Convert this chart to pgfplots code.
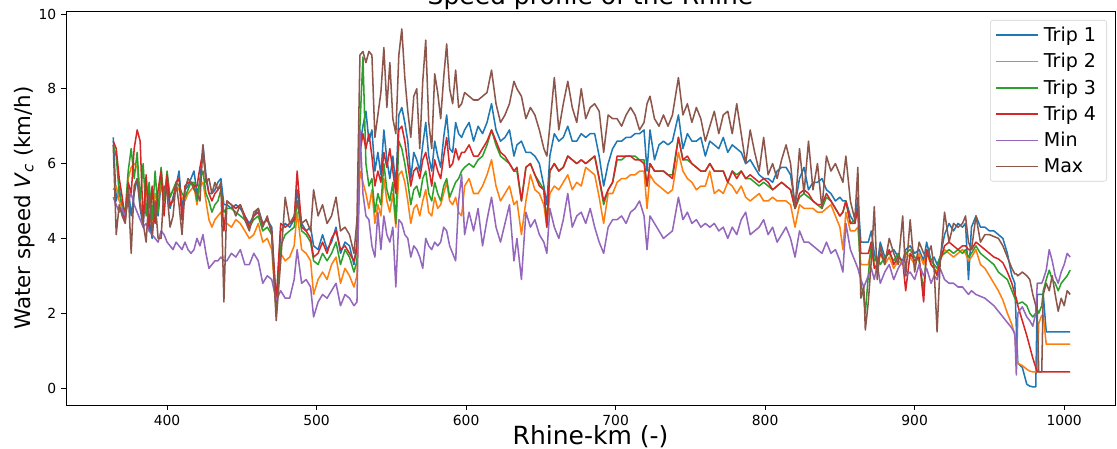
\documentclass[border=0pt]{standalone}
\usepackage{pgfplots}
\usepackage{pgfplotstable}
\pgfplotsset{compat=1.18}
\usepackage{fontspec}
\setmainfont{DejaVu Sans}
\definecolor{c1}{HTML}{1F77B4}
\definecolor{c2}{HTML}{FF7F0E}
\definecolor{c3}{HTML}{2CA02C}
\definecolor{c4}{HTML}{D62728}
\definecolor{c5}{HTML}{9467BD}
\definecolor{c6}{HTML}{8C564B}
\pgfplotstableread{
x t1 t2 t3 t4 mn mx
364 6.7 5.3 6.5 6.6 5.1 6.5
366 5.0 5.4 6.2 6.4 4.9 4.1
368 5.4 5.0 5.2 5.6 4.7 4.9
370 4.7 4.8 4.9 5.1 4.8 4.6
372 4.5 4.6 4.7 4.5 4.6 4.4
374 5.4 5.6 5.8 5.5 5.0 5.3
376 4.6 5.9 6.4 5.2 5.2 3.6
378 5.2 6.0 5.6 6.4 4.9 5.4
380 5.6 5.9 6.3 6.9 4.7 5.6
382 4.8 5.0 5.0 6.6 4.5 4.9
384 4.3 4.6 6.0 4.4 4.3 4.4
386 5.6 5.4 4.6 5.7 4.4 3.9
388 4.5 4.6 5.5 4.2 4.2 5.2
390 4.0 4.4 4.5 5.4 4.1 4.1
392 5.0 5.2 5.8 4.4 4.0 5.0
394 4.6 4.9 4.7 5.3 3.9 4.0
396 5.5 5.5 5.9 5.8 4.2 4.0
398 5.0 5.2 5.0 4.6 4.1 5.4
400 5.4 5.6 5.8 5.7 3.9 5.2
402 4.8 5.1 5.1 4.9 3.8 4.3
404 5.1 5.3 5.3 5.0 3.7 4.6
406 5.4 5.4 5.5 5.5 3.9 5.5
408 5.8 5.3 5.4 5.6 3.8 4.9
410 4.8 5.1 5.2 4.5 3.7 4.1
412 5.3 5.0 5.1 5.4 3.9 5.3
414 5.4 5.2 5.3 5.5 3.7 5.6
416 5.6 5.3 5.5 5.5 3.6 5.5
418 5.8 5.4 5.5 5.4 3.7 5.3
420 5.2 4.9 5.0 5.4 4.0 5.2
422 5.5 5.4 5.6 5.9 3.8 5.0
424 6.5 5.5 5.8 6.3 4.1 6.5
426 5.7 5.0 5.2 5.6 3.6 5.5
428 5.2 4.5 5.0 5.2 3.2 5.6
430 5.2 4.3 4.7 5.0 3.3 5.2
432 5.3 4.5 4.9 5.2 3.4 5.5
434 5.5 4.6 5.0 5.3 3.4 5.3
436 5.6 4.7 5.3 5.4 3.5 5.5
438 4.9 4.4 4.7 4.2 3.4 2.3
440 4.9 4.4 4.8 5.0 3.4 5.0
443 4.8 4.3 4.8 4.9 3.6 4.9
446 4.9 4.5 4.7 4.8 3.5 4.6
449 4.8 4.4 4.6 4.9 3.7 4.9
452 4.6 4.2 4.5 4.6 3.3 4.5
455 4.4 4.0 4.3 4.3 3.3 4.2
458 4.6 4.1 4.5 4.6 3.6 4.7
461 4.8 4.4 4.6 4.7 3.4 4.8
464 4.4 3.9 4.2 4.4 2.8 4.3
467 4.5 4.0 4.3 4.5 3.0 4.6
470 4.3 3.7 4.1 4.2 2.9 4.1
473 2.2 2.1 2.0 2.3 2.35 1.8
476 4.2 3.6 3.8 4.4 2.6 3.4
479 4.4 3.4 4.1 4.3 2.4 5.1
482 4.3 3.5 4.2 4.4 2.4 4.4
485 4.5 3.8 4.3 4.5 2.9 4.6
487 5.3 4.7 5.0 5.8 3.7 5.0
490 4.4 3.7 4.2 4.3 2.8 4.4
493 4.2 3.6 4.1 4.2 2.9 4.5
496 4.3 3.4 3.9 4.0 2.7 4.2
498 3.8 2.5 3.4 3.5 1.9 5.3
501 3.7 2.9 3.3 3.6 2.3 4.6
504 4.1 3.1 3.6 3.9 2.5 4.9
507 3.7 2.9 3.4 3.6 2.4 4.4
510 3.9 3.3 3.6 4.0 2.6 4.6
513 4.3 3.5 3.9 4.2 2.8 5.1
516 3.6 2.8 3.3 3.7 2.2 4.2
519 3.9 3.2 3.7 3.8 2.5 4.3
522 3.8 3.0 3.5 3.6 2.4 4.1
525 3.3 2.7 3.1 3.4 2.2 3.6
527 3.9 3.0 3.4 3.7 2.3 4.5
529 6.5 5.8 7.0 6.3 6.9 8.9
531 7.0 5.5 8.85 6.8 5.2 9.0
533 7.4 5.2 6.0 6.4 4.6 8.7
535 6.6 4.8 5.4 6.8 4.5 9.0
537 6.9 5.3 5.6 6.2 3.8 8.9
539 5.8 4.4 4.7 5.4 3.5 6.7
541 6.3 4.9 5.2 5.8 4.7 7.3
543 5.7 4.6 4.9 5.5 3.7 7.9
545 6.9 5.6 6.0 6.3 4.6 9.1
547 6.1 5.0 5.3 5.9 4.1 7.5
549 5.6 4.7 5.0 6.4 3.9 8.7
551 6.2 5.2 5.5 5.8 4.3 7.2
553 5.4 4.3 4.4 5.2 2.7 6.8
555 7.3 5.7 6.6 6.9 4.5 8.9
557 7.5 5.8 6.4 7.0 4.4 9.6
559 7.1 5.5 6.0 6.6 4.1 8.3
561 6.6 5.0 5.5 6.0 4.0 7.4
563 5.6 4.4 4.9 5.4 3.5 6.7
565 6.3 4.8 5.3 5.8 3.8 7.8
567 6.1 4.9 5.4 5.9 3.7 8.0
569 5.8 4.6 5.1 5.6 3.5 6.4
571 6.5 5.0 5.6 6.1 3.2 8.2
573 7.1 5.3 5.8 6.3 4.0 9.3
575 6.2 4.7 5.2 5.9 3.8 7.1
577 5.8 4.6 5.0 5.4 3.7 6.4
579 6.6 5.1 5.5 6.1 3.9 8.4
581 6.2 4.8 5.2 5.8 3.8 7.9
583 5.9 4.9 5.0 5.6 3.9 7.2
585 6.7 5.2 5.4 6.2 4.3 8.3
587 7.3 5.5 5.6 6.7 4.2 9.2
589 6.4 5.0 5.1 5.9 3.8 8.0
591 6.3 4.9 5.3 6.0 3.6 7.6
593 7.1 5.1 5.5 6.4 3.4 8.5
595 6.8 4.7 5.6 6.1 5.0 7.5
597 6.7 4.6 5.8 6.3 5.7 7.6
599 6.9 5.4 5.9 6.3 4.1 7.9
602 7.1 5.6 6.0 6.5 4.7 7.8
605 6.6 5.2 5.9 6.2 4.2 7.7
608 7.0 5.2 6.1 6.2 4.8 7.7
611 6.8 5.4 6.2 6.4 3.8 7.8
614 7.1 5.7 6.5 6.6 4.5 7.9
617 7.6 6.1 6.9 6.9 5.1 8.5
620 6.9 5.4 6.5 6.6 4.3 7.6
623 6.6 5.0 6.2 6.3 3.9 7.1
626 6.7 5.2 6.1 6.2 4.4 7.3
629 6.9 5.4 6.0 6.0 4.9 7.6
632 6.2 4.9 5.8 5.8 3.4 8.2
634 6.5 5.0 5.8 5.9 4.0 8.0
637 6.6 4.1 5.0 5.0 2.9 7.8
640 6.3 5.0 5.9 5.9 4.7 7.2
643 6.3 5.7 6.0 6.0 4.3 7.5
646 6.2 5.3 5.7 5.7 4.5 7.3
649 6.0 5.2 5.5 5.4 4.1 6.9
652 5.4 4.9 5.3 5.3 3.9 6.4
654 4.9 4.3 4.4 4.3 3.6 6.2
656 6.2 5.2 5.8 5.8 4.8 7.0
659 6.8 5.4 6.0 6.0 4.3 8.3
662 6.6 5.3 5.8 5.8 4.0 6.9
665 6.7 5.5 5.9 5.9 4.5 7.6
668 7.0 5.7 6.2 6.2 5.2 8.2
671 6.6 5.3 6.1 6.1 4.3 7.5
674 6.6 5.5 6.0 6.0 4.6 7.1
677 6.8 5.4 6.1 6.1 4.7 8.0
680 6.7 5.9 6.0 6.0 4.4 7.2
683 6.8 5.8 6.1 6.1 4.8 7.5
686 6.8 5.7 6.2 6.2 4.3 7.6
689 6.2 5.1 5.6 5.6 3.9 7.4
692 5.4 4.4 4.9 5.0 3.6 6.3
695 6.0 5.2 5.3 5.3 4.3 7.3
698 6.4 5.2 5.5 5.5 4.5 7.2
701 6.6 5.5 6.1 6.2 4.5 7.2
704 6.6 5.6 6.1 6.2 4.6 7.0
707 6.7 5.6 6.2 6.2 4.4 7.3
710 6.7 5.7 6.2 6.2 4.7 7.5
713 6.8 5.7 6.2 6.1 4.8 7.3
716 6.8 5.8 6.1 6.1 5.0 6.9
719 6.9 5.8 6.1 6.0 4.6 7.1
721 5.8 4.8 5.4 5.4 3.7 7.6
723 6.9 5.7 6.0 6.0 4.6 7.8
726 6.1 5.5 5.8 5.8 4.4 7.2
729 6.5 5.4 5.8 5.8 4.2 7.0
732 6.6 5.3 5.8 5.8 4.0 7.3
735 6.5 5.2 5.7 5.7 4.1 7.0
738 6.6 5.3 5.7 5.6 4.2 7.3
742 7.3 6.3 6.7 6.7 5.1 8.3
745 6.4 5.8 6.1 6.1 4.5 7.3
748 6.8 5.6 6.1 6.2 4.7 7.6
751 6.6 5.5 6.0 6.0 4.4 7.1
754 6.6 5.3 5.9 5.9 4.5 7.5
757 6.7 5.4 5.8 5.8 4.3 7.2
760 6.2 5.4 5.8 5.8 4.4 6.6
763 6.6 5.8 6.0 6.0 4.3 7.0
766 6.5 5.2 5.8 5.8 4.4 7.4
769 6.4 5.3 5.8 5.8 4.2 6.8
772 6.7 5.2 5.8 5.8 4.3 7.3
775 6.3 5.5 5.5 5.5 4.0 7.4
778 6.5 5.4 5.8 5.8 4.3 6.8
781 6.4 5.2 5.7 5.6 4.1 7.6
784 6.3 5.4 5.8 5.8 4.5 6.8
787 6.0 5.1 5.6 5.6 4.7 6.0
790 6.1 5.0 5.6 5.7 4.1 6.9
793 5.9 5.1 5.5 5.6 4.2 6.3
796 5.7 5.2 5.4 5.5 4.3 5.8
799 5.6 5.0 5.5 5.6 4.5 6.7
802 5.6 5.0 5.4 5.5 4.1 5.7
805 5.5 5.1 5.3 5.3 4.3 6.0
808 5.8 5.0 5.4 5.4 3.9 5.6
811 5.9 5.0 5.5 5.5 4.1 6.1
814 5.9 5.0 5.4 5.4 4.3 6.5
817 5.7 4.9 5.3 5.3 4.0 6.0
820 4.9 4.3 4.8 4.8 3.5 4.8
823 5.6 4.9 5.1 5.2 4.2 6.4
826 5.9 4.8 5.2 5.3 3.9 5.2
829 5.3 4.8 5.1 5.2 3.9 6.6
832 5.5 4.8 5.0 5.0 3.8 5.3
835 5.5 4.7 4.9 4.9 3.7 6.0
838 5.6 4.7 4.8 4.9 3.6 4.8
841 5.3 4.8 5.1 5.2 3.9 6.2
844 5.2 4.9 5.0 5.0 3.6 5.8
847 5.0 4.6 4.8 4.8 3.7 6.0
850 5.1 4.3 4.6 4.6 3.4 5.7
852 5.0 3.7 4.7 4.7 3.1 5.5
854 5.0 4.7 5.0 5.0 4.4 6.2
857 4.6 4.2 4.4 4.4 3.7 5.0
860 4.4 4.2 4.5 4.4 3.4 4.5
862 5.1 4.3 4.7 4.8 3.2 5.9
864 3.9 3.3 2.8 3.6 2.9 2.4
866 3.9 3.3 2.4 3.6 2.7 2.7
867 3.9 3.3 2.0 3.6 2.8 1.55
869 3.9 3.3 3.0 3.6 3.0 2.3
871 4.2 3.7 3.9 3.9 3.2 3.4
873 3.6 3.3 3.4 3.2 2.9 4.85
875 3.3 3.1 3.5 3.3 3.3 2.9
877 3.9 3.6 3.3 3.6 2.8 3.8
880 3.5 3.3 3.5 3.4 3.1 3.3
883 3.6 3.5 3.6 3.7 3.3 4.0
886 3.7 3.2 3.4 3.3 2.9 3.6
889 3.5 3.4 3.6 3.5 3.2 3.3
892 3.4 3.3 3.3 3.4 3.4 4.6
894 3.7 3.6 3.6 2.6 3.0 3.0
897 3.8 3.5 3.7 3.6 3.1 4.5
900 3.6 3.3 3.5 3.4 2.9 3.1
903 3.7 3.6 3.4 3.5 3.3 3.9
906 3.4 3.3 2.6 2.3 3.0 3.6
908 3.9 3.6 3.7 3.7 3.2 3.5
911 3.4 3.3 3.4 3.3 2.8 3.8
913 3.5 3.2 3.3 3.2 3.0 3.2
915 3.3 3.1 3.2 3.0 2.9 1.5
917 3.5 3.4 3.5 3.4 3.2 3.3
920 4.1 3.7 3.6 3.8 2.9 4.7
923 4.4 3.6 3.7 3.9 2.8 3.9
926 4.2 3.5 3.6 3.8 2.8 4.4
929 4.4 3.6 3.7 3.7 2.7 4.3
932 4.3 3.7 3.6 3.8 2.7 4.4
934 4.4 3.6 3.7 3.8 2.6 4.6
936 2.9 3.4 3.5 3.7 2.5 3.9
938 4.3 3.5 3.6 3.7 2.6 3.7
941 4.6 3.7 3.8 3.9 2.5 4.6
944 4.3 3.3 3.6 3.8 2.45 3.9
947 4.3 3.2 3.5 3.7 2.4 4.1
950 4.2 3.0 3.4 3.6 2.3 4.1
953 4.2 2.8 3.3 3.5 2.2 4.05
956 4.1 2.6 3.1 3.45 2.05 4.0
959 4.0 2.35 3.0 3.35 1.9 3.8
962 3.6 2.0 2.9 3.1 1.75 3.5
965 3.0 1.7 2.6 2.8 1.6 3.2
967 2.8 1.4 2.4 2.5 1.46 3.05
968 1.6 0.9 2.3 2.4 0.35 3.05
969 0.66 0.66 2.25 2.2 2.0 3.0
972 0.55 0.6 2.3 1.8 2.17 3.1
975 0.1 0.5 2.2 1.4 1.9 3.0
977 0.05 0.45 2.0 1.1 1.8 2.9
979 0.03 0.43 1.9 0.8 1.65 2.5
981 0.03 0.43 2.0 0.55 2.0 2.2
982 2.5 0.43 2.1 0.43 2.8 2.0
983 2.5 1.73 2.0 0.43 2.8 0.43
985 2.5 1.94 2.2 0.43 2.8 0.43
986 2.5 1.94 2.6 0.43 2.9 2.5
988 1.5 1.17 2.9 0.43 3.15 2.8
990 1.5 1.17 3.15 0.43 3.7 2.6
992 1.5 1.17 2.9 0.43 3.4 3.0
994 1.5 1.17 2.8 0.43 3.0 2.5
996 1.5 1.17 2.6 0.43 2.8 2.05
998 1.5 1.17 2.8 0.43 3.1 2.4
1000 1.5 1.17 2.9 0.43 3.3 2.2
1002 1.5 1.17 3.0 0.43 3.6 2.6
1004 1.5 1.17 3.15 0.43 3.5 2.5
}\data
\begin{document}
\begin{tikzpicture}
\begin{axis}[
  name=ax,
  scale only axis,
  width=786.75pt, height=295.5pt,
  xmin=332.4, xmax=1034,
  ymin=-0.455, ymax=10.08,
  xtick={400,500,600,700,800,900,1000},
  ytick={0,2,4,6,8,10},
  tick align=outside,
  major tick length=3.75pt,
  xtick pos=bottom, ytick pos=left,
  axis line style={line width=0.6pt},
  tick style={line width=0.6pt, black},
  /pgf/number format/assume math mode=true,
  /pgf/number format/1000 sep={},
  ticklabel style={font=\fontsize{10.4}{12}\selectfont},
  title={Speed profile of the Rhine},
  title style={font=\fontsize{18.75}{22}\selectfont, at={(axis description cs:0.5,1)}, anchor=base, yshift=-1.5pt},
  xlabel={Rhine-km (-)},
  xlabel style={font=\fontsize{18.75}{22}\selectfont, at={(axis description cs:0.5,0)}, anchor=base, yshift=-30pt},
  ylabel={Water speed \textit{V}\textsubscript{\textit{c}} (km/h)},
  ylabel style={font=\fontsize{16}{19}\selectfont, at={(axis description cs:-0.0343,0.5)}, anchor=base},
  legend style={at={(axis description cs:1,1)}, anchor=north east, xshift=-6pt, yshift=-6.75pt,
    draw=black!18, rounded corners=2pt, font=\fontsize{14.3}{17}\selectfont,
    row sep=3.4pt, inner xsep=4pt, inner ysep=3pt,
    nodes={inner xsep=4pt}},
  legend cell align=left,
  legend image code/.code={\draw[#1, line width=1.1pt] (0pt,0pt) -- (31pt,0pt);},
  every axis plot/.append style={line width=1.15pt, line join=round},
]
\addplot[c1] table[x=x,y=t1]{\data};
\addplot[c2] table[x=x,y=t2]{\data};
\addplot[c3] table[x=x,y=t3]{\data};
\addplot[c4] table[x=x,y=t4]{\data};
\addplot[c5] table[x=x,y=mn]{\data};
\addplot[c6] table[x=x,y=mx]{\data};
\legend{Trip 1,Trip 2,Trip 3,Trip 4,Min,Max}
\end{axis}
\pgfresetboundingbox
\path[use as bounding box] ([shift={(-49.5pt,-33pt)}]ax.south west) rectangle ([shift={(1.5pt,8.25pt)}]ax.north east);
\end{tikzpicture}
\end{document}
